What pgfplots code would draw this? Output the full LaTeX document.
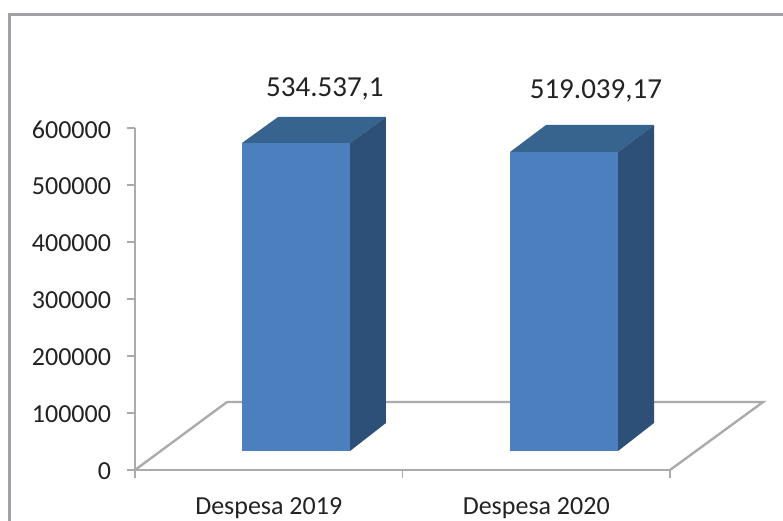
\documentclass[border=0pt]{standalone}
\usepackage{fontspec}
\setmainfont{Carlito}
\usepackage{pgfplots}
\pgfplotsset{compat=1.18}
\definecolor{barfront}{HTML}{4C7FBE}
\definecolor{bartop}{HTML}{37638F}
\definecolor{barside}{HTML}{2D5078}
\definecolor{linegray}{HTML}{ABABAB}
\definecolor{framegray}{HTML}{A0A0A6}
\definecolor{txt}{HTML}{222222}
\begin{document}
\begin{tikzpicture}[x=1pt,y=1pt]
\useasboundingbox (-135,-51) rectangle (648,470);
% 1 px = 1 pt, origin at the foot of the y axis
\begin{axis}[
	scale only axis,
	width=535pt,
	height=342pt,
	xmin=0, xmax=2,
	ymin=0, ymax=600000,
	clip=false,
	axis lines=left,
	axis line style={-, linegray, line width=2.4pt},
	tick align=outside,
	major tick length=8pt,
	tick style={linegray, line width=1.8pt},
	xtick={0,1,2},
	xticklabels={},
	extra x ticks={0.5,1.5},
	extra x tick labels={Despesa 2019, Despesa 2020},
	extra x tick style={major tick length=0pt, tick label style={yshift=-24pt}},
	ytick={0,100000,200000,300000,400000,500000,600000},
	scaled y ticks=false,
	/pgf/number format/fixed,
	/pgf/number format/1000 sep={},
	/pgf/number format/assume math mode=true,
	tick label style={font=\fontsize{26}{28}\selectfont, text=txt},
	yticklabel style={xshift=-12.5pt, yshift=-1.5pt},
]
% floor of the 3D plot
\addplot[linegray, line width=2.4pt, line join=miter] coordinates {
	(0,0) (0.344,119300) (2.348,119300) (2,0)
};
% Despesa 2019
\addplot[fill=bartop, draw=none] coordinates {
	(0.4,573700) (0.8037,573700) (0.9383,619300) (0.5346,619300)
} -- cycle;
\addplot[fill=barside, draw=none] coordinates {
	(0.8037,33300) (0.8037,573700) (0.9383,619300) (0.9383,82500)
} -- cycle;
\addplot[fill=barfront, draw=none] coordinates {
	(0.4,33300) (0.4,573700) (0.8037,573700) (0.8037,33300)
} -- cycle;
% Despesa 2020
\addplot[fill=bartop, draw=none] coordinates {
	(1.4019,557900) (1.8056,557900) (1.9402,605300) (1.5365,605300)
} -- cycle;
\addplot[fill=barside, draw=none] coordinates {
	(1.8056,33300) (1.8056,557900) (1.9402,605300) (1.9402,82500)
} -- cycle;
\addplot[fill=barfront, draw=none] coordinates {
	(1.4019,33300) (1.4019,557900) (1.8056,557900) (1.8056,33300)
} -- cycle;
\node[font=\fontsize{29}{31}\selectfont, text=txt] at (axis cs:0.71,668500) {534.537,1};
\node[font=\fontsize{29}{31}\selectfont, text=txt] at (axis cs:1.723,664500) {519.039,17};
\end{axis}
% outer frame, only top and left are in the picture
\draw[framegray, line width=2.6pt] (-125.5,-51) -- (-125.5,455.5) -- (648,455.5);
\end{tikzpicture}
\end{document}
